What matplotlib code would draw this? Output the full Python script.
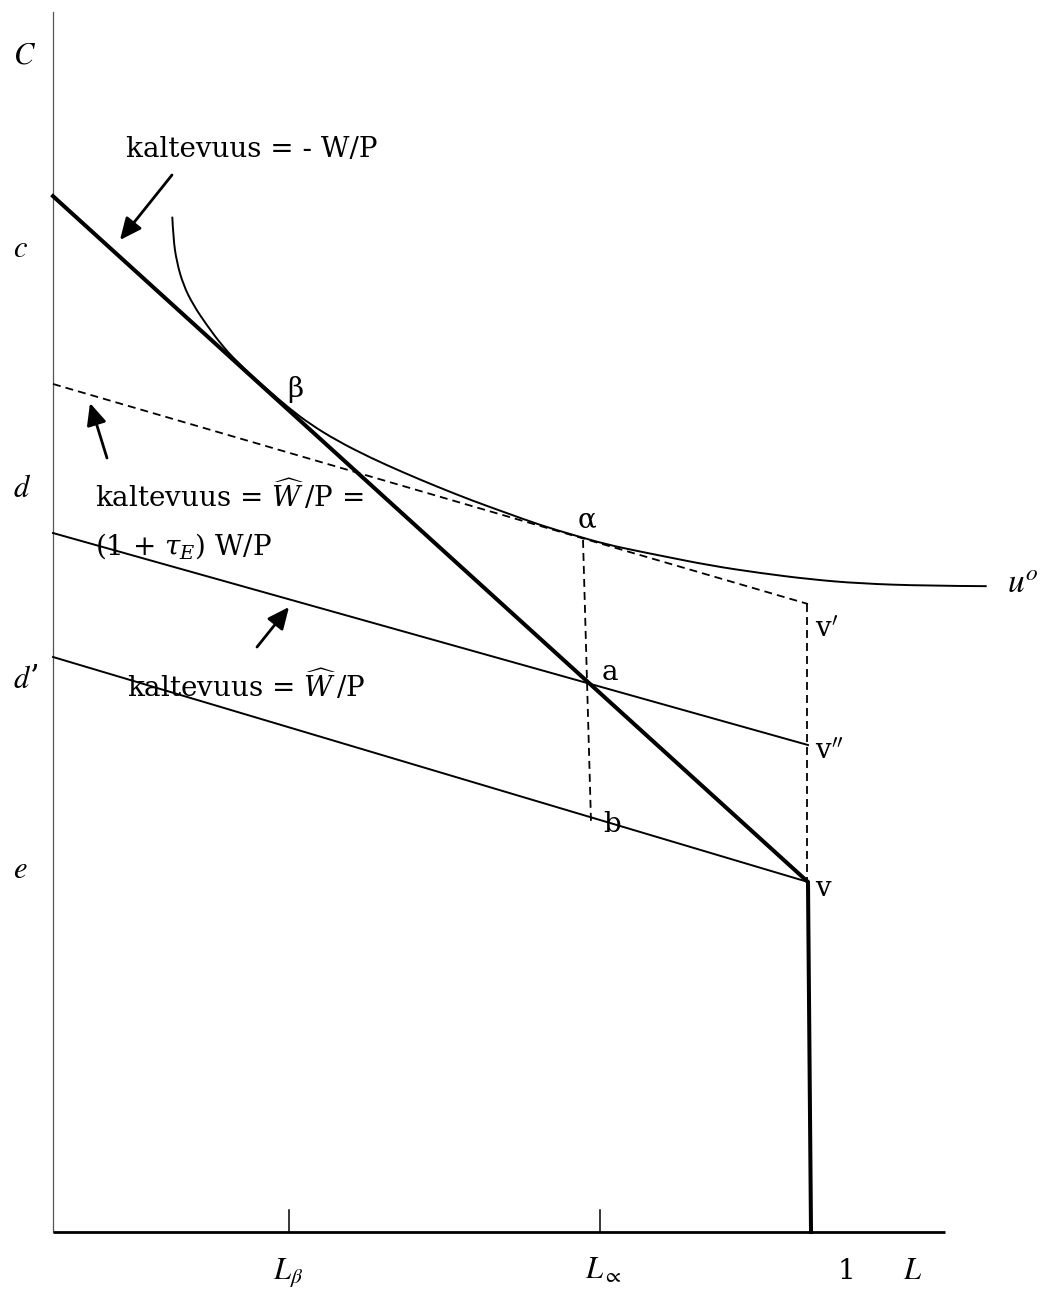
import matplotlib
matplotlib.use("Agg")
import matplotlib.pyplot as plt
from matplotlib.path import Path
from matplotlib.patches import PathPatch

plt.rcParams['font.family'] = ['DejaVu Serif']
plt.rcParams['mathtext.fontset'] = 'stix'

# labour L (1 = full endowment) and consumption C
budget_L = [0.0, 1.0, 1.004]
budget_C = [1.372, 0.4636, 0.0]

# tax-adjusted lines, slope W^/P
dashed_L = [0.0, 1.0]
dashed_C = [1.1232, 0.8318]
line_a_L = [0.0, 1.0]
line_a_C = [0.9258, 0.6450]
line_b_L = [0.0, 1.0]
line_b_C = [0.7616, 0.4636]

# indifference curve u^o
curve_L = [0.1580, 0.1593, 0.1638, 0.1726, 0.1858, 0.2036, 0.2234, 0.2433,
           0.2768, 0.3139, 0.3404, 0.3758, 0.4199, 0.4640, 0.5082, 0.5567,
           0.6009, 0.6450, 0.6891, 0.7334, 0.7775, 0.8040, 0.8702, 0.9364,
           1.0026, 1.0689, 1.1572, 1.2367]
curve_C = [1.3448, 1.3162, 1.2852, 1.2543, 1.2278, 1.2013, 1.1748, 1.1530,
           1.1219, 1.0901, 1.0702, 1.0483, 1.0258, 1.0060, 0.9874, 0.9682,
           0.9523, 0.9364, 0.9232, 0.9106, 0.9013, 0.8960, 0.8828, 0.8728,
           0.8645, 0.8589, 0.8559, 0.8554]

# drop lines
drop_alpha_L = [0.7020, 0.7126]
drop_alpha_C = [0.9166, 0.5430]
drop_v_L = [0.9987, 0.9987]
drop_v_C = [0.8318, 0.4636]

L_beta = 0.3126
L_alpha = 0.7245


def smooth_path(xs, ys):
    # quadratic Bezier through midpoints, so the curve has no corners
    pts = list(zip(xs, ys))
    verts = [pts[0]]
    codes = [Path.MOVETO]
    for i in range(1, len(pts) - 1):
        mid = ((pts[i][0] + pts[i + 1][0]) / 2, (pts[i][1] + pts[i + 1][1]) / 2)
        end = mid if i < len(pts) - 2 else pts[-1]
        verts += [pts[i], end]
        codes += [Path.CURVE3, Path.CURVE3]
    return Path(verts, codes)


fig = plt.figure(figsize=(10.44, 12.89), dpi=100)
ax = fig.add_axes([0, 0, 1, 1])
ax.set_xlim(-0.0702, 1.3126)
ax.set_ylim(-0.0755, 1.6318)
ax.axis('off')

# axes
ax.plot([0, 0], [0, 1.616], color='#555555', lw=0.9)
ax.plot([0, 1.181], [0, 0], color='black', lw=2.0, solid_capstyle='butt')
for t in (L_beta, L_alpha):
    ax.plot([t, t], [0, 0.029], color='black', lw=1.1)

dash = (0, (4.4, 2.8))
ax.plot(budget_L, budget_C, color='black', lw=2.9, solid_joinstyle='miter')
ax.add_patch(PathPatch(smooth_path(curve_L, curve_C), facecolor='none',
                       edgecolor='black', lw=1.4))
ax.plot(dashed_L, dashed_C, color='black', lw=1.3, linestyle=dash)
ax.plot(line_a_L, line_a_C, color='black', lw=1.4)
ax.plot(line_b_L, line_b_C, color='black', lw=1.4)
ax.plot(drop_alpha_L, drop_alpha_C, color='black', lw=1.3, linestyle=dash)
ax.plot(drop_v_L, drop_v_C, color='black', lw=1.3, linestyle=dash)

# arrows to the lines
arrow = dict(arrowstyle='-|>,head_length=0.55,head_width=0.25', lw=2.0,
             color='black', mutation_scale=24, shrinkA=0, shrinkB=0)
ax.annotate('', xy=(0.0887, 1.3139), xytext=(0.1576, 1.4000), arrowprops=arrow)
ax.annotate('', xy=(0.0490, 1.0980), xytext=(0.0715, 1.0252), arrowprops=arrow)
ax.annotate('', xy=(0.3126, 0.8278), xytext=(0.2702, 0.7748), arrowprops=arrow)

fs = 20
mf = 'dejavuserif'
ax.text(0.0967, 1.4238, 'kaltevuus = - W/P', fontsize=fs, va='baseline')
ax.text(0.0556, 0.9603, r'kaltevuus = $\widehat{W}\,$/P =', fontsize=fs,
        va='baseline', math_fontfamily=mf)
ax.text(0.0556, 0.8967, r'(1 + $\tau_E$) W/P', fontsize=fs, va='baseline',
        math_fontfamily=mf)
ax.text(0.0980, 0.7086, r'kaltevuus = $\widehat{W}\,$/P', fontsize=fs,
        va='baseline', math_fontfamily=mf)

# point labels
for x, y, s in [(0.3099, 1.1060, 'β'), (0.6954, 0.9338, 'α'), (0.7272, 0.7311, 'a'),
                (1.0093, 0.7881, r"v$'$"), (1.0093, 0.6278, r"v$''$"),
                (0.7285, 0.5298, 'b'), (1.0093, 0.4450, 'v')]:
    ax.text(x, y, s, fontsize=fs, va='baseline', math_fontfamily=mf)

ax.text(1.2636, 0.8464, r'$u^o$', fontsize=24, va='baseline')

# axis letters
for y, s in [(1.5483, r'$C$'), (1.2914, r'$c$'), (0.9735, r'$d$'),
             (0.7205, r'$d$ʼ'), (0.4689, r'$e$')]:
    ax.text(-0.0530, y, s, fontsize=22, va='baseline')

for x, s in [(0.2914, r'$L_\beta$'), (0.7046, r'$L_\propto$'), (1.1258, r'$L$')]:
    ax.text(x, -0.0625, s, fontsize=22, va='baseline')
ax.text(1.0397, -0.0625, '1', fontsize=20, va='baseline')

fig.savefig('out.png', dpi=100, facecolor='white')
